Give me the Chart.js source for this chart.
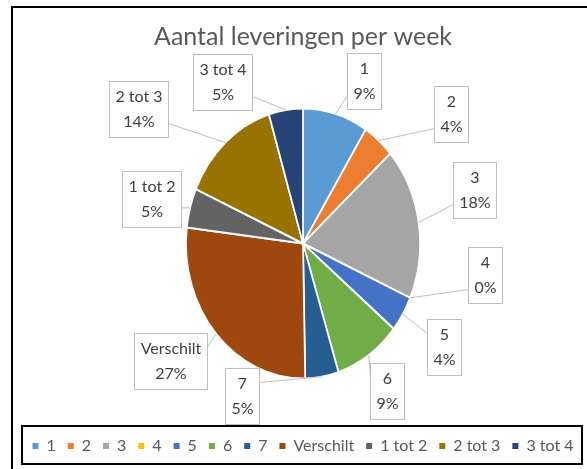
<!DOCTYPE html>
<html>
<head>
<meta charset="utf-8">
<script src="https://cdn.jsdelivr.net/npm/chart.js@4.4.0/dist/chart.umd.min.js"></script>
<style>
  html, body { margin: 0; padding: 0; background: #fff; overflow: hidden; }
  #wrap { width: 606px; height: 469px; }
</style>
</head>
<body>
<div id="wrap"><canvas id="chart" width="606" height="469"></canvas></div>
<script>
// --- data ---
const categories = ['1', '2', '3', '4', '5', '6', '7', 'Verschilt', '1 tot 2', '2 tot 3', '3 tot 4'];
const shares = [9.0, 4.4, 18.2, 0, 4.3, 9.2, 4.6, 27.2, 4.7, 13.7, 4.7];
const sliceColors = ['#5B9BD5', '#ED7D31', '#A5A5A5', '#FFC000', '#4472C4', '#70AD47',
                     '#255E91', '#9E480E', '#636363', '#997300', '#264478'];

// --- layout ---
// where each callout box sits, relative to the pie centre, in radius units
const labelSpots = [
  [0.452, -1.207], [1.096, -0.956], [1.274, -0.400], [1.348, 0.230],
  [1.044, 0.770], [0.622, 1.096], [-0.452, 1.133], [-0.978, 0.867],
  [-1.119, -0.333], [-1.222, -1.000], [-0.593, -1.200]
];
const SQUASH = 0.867;   // the original pie is drawn a bit narrower than tall
const FONT = 'Lato';

const total = shares.reduce((a, b) => a + b, 0);
const pct = v => Math.round(v / total * 100) + '%';

// squeeze only the slices horizontally
const squashPlugin = {
  id: 'squash',
  beforeDatasetsDraw(chart) {
    const arc = chart.getDatasetMeta(0).data[0];
    const ctx = chart.ctx;
    ctx.save();
    ctx.translate(arc.x, 0);
    ctx.scale(SQUASH, 1);
    ctx.translate(-arc.x, 0);
  },
  afterDatasetsDraw(chart) {
    chart.ctx.restore();
  }
};

const framePlugin = {
  id: 'frame',
  beforeDraw(chart) {
    const ctx = chart.ctx;
    ctx.save();
    ctx.fillStyle = '#fff';
    ctx.fillRect(0, 0, chart.width, chart.height);
    ctx.restore();
  },
  afterDraw(chart) {
    const ctx = chart.ctx;
    ctx.save();
    ctx.strokeStyle = '#000';
    ctx.lineWidth = 2;
    ctx.beginPath();
    ctx.moveTo(12, chart.height);
    ctx.lineTo(12, 7);
    ctx.lineTo(chart.width, 7);
    ctx.stroke();
    ctx.strokeRect(22, 426, 560, 38);
    ctx.restore();
  }
};

const calloutPlugin = {
  id: 'callouts',
  afterDraw(chart) {
    const ctx = chart.ctx;
    const meta = chart.getDatasetMeta(0);
    const clamp = (v, lo, hi) => Math.max(lo, Math.min(hi, v));
    ctx.save();
    ctx.font = '16px ' + FONT;
    meta.data.forEach((arc, i) => {
      const { x, y, startAngle, endAngle, outerRadius } =
        arc.getProps(['x', 'y', 'startAngle', 'endAngle', 'outerRadius'], true);
      const mid = (startAngle + endAngle) / 2;
      const ax = x + Math.cos(mid) * outerRadius * SQUASH;
      const ay = y + Math.sin(mid) * outerRadius;

      const lines = [categories[i], pct(shares[i])];
      const w = Math.round(Math.max(...lines.map(t => ctx.measureText(t).width)) + 12);
      const h = 56;
      const cx = x + labelSpots[i][0] * outerRadius;
      const cy = y + labelSpots[i][1] * outerRadius;
      const bx = Math.round(cx - w / 2) + 0.5;
      const by = Math.round(cy - h / 2) + 0.5;

      // leader line from the box side that faces the slice
      let px, py;
      if (ax < bx) { px = bx; py = clamp(ay, by + h * 0.25, by + h * 0.75); }
      else if (ax > bx + w) { px = bx + w; py = clamp(ay, by + h * 0.25, by + h * 0.75); }
      else { px = ax; py = ay < by ? by : by + h; }
      ctx.strokeStyle = '#BFBFBF';
      ctx.lineWidth = 1;
      ctx.beginPath();
      ctx.moveTo(px, py);
      ctx.lineTo(ax, ay);
      ctx.stroke();

      ctx.fillStyle = '#fff';
      ctx.fillRect(bx, by, w, h);
      ctx.strokeRect(bx, by, w, h);

      ctx.fillStyle = '#404040';
      ctx.textAlign = 'center';
      ctx.textBaseline = 'middle';
      ctx.fillText(lines[0], bx + w / 2, by + h / 2 - 12.5);
      ctx.fillText(lines[1], bx + w / 2, by + h / 2 + 12.5);
    });
    ctx.restore();
  }
};

new Chart(document.getElementById('chart'), {
  type: 'pie',
  data: {
    labels: categories,
    datasets: [{
      data: shares,
      backgroundColor: sliceColors,
      borderColor: '#fff',
      borderWidth: 2,
      radius: 135
    }]
  },
  options: {
    responsive: false,
    devicePixelRatio: 1,
    animation: false,
    layout: { padding: { top: 0, bottom: 5, left: 0, right: 0 } },
    plugins: {
      title: {
        display: true,
        text: 'Aantal leveringen per week',
        color: '#595959',
        font: { family: FONT, size: 25, weight: 'normal' },
        padding: { top: 22, bottom: 9 }
      },
      legend: {
        position: 'bottom',
        labels: {
          color: '#595959',
          font: { family: FONT, size: 16 },
          boxWidth: 6,
          boxHeight: 6,
          padding: 12,
          generateLabels: chart => Chart.overrides.doughnut.plugins.legend.labels.generateLabels(chart)
            .map(item => ({ ...item, lineWidth: 0, strokeStyle: item.fillStyle }))
        }
      },
      tooltip: { enabled: false }
    }
  },
  plugins: [squashPlugin, framePlugin, calloutPlugin]
});
</script>
</body>
</html>
